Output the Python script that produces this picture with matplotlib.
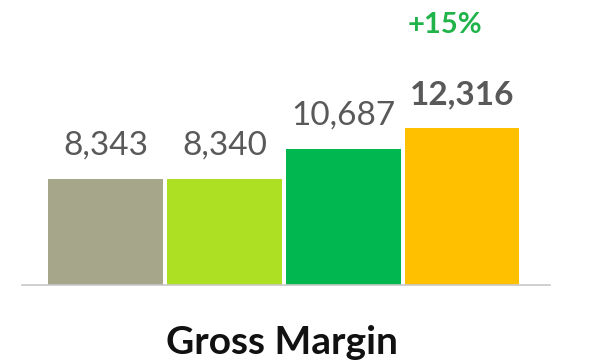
import numpy as np
import matplotlib.pyplot as plt

# gross margin by period
values = [8343, 8340, 10687, 12316]
labels = ["8,343", "8,340", "10,687", "12,316"]
bar_colors = ["#a6a68a", "#addf22", "#00b84f", "#ffc000"]
growth = "+15%"
title = "Gross Margin"

plt.rcParams['font.family'] = ['Lato', 'DejaVu Sans']

W, H = 589, 361
fig = plt.figure(figsize=(W / 100, H / 100), dpi=100)
ax = fig.add_axes([22 / W, 76 / H, 528 / W, 285 / H])

x = np.arange(len(values))
ax.bar(x, values, width=0.966, color=bar_colors, zorder=2)
ax.set_xlim(-0.706, 3.74)
ax.set_ylim(0, 22400)

for i, (v, lab) in enumerate(zip(values, labels)):
    ax.annotate(lab, (x[i], v), xytext=(0, 24), textcoords='offset pixels',
                ha='center', va='baseline', fontsize=24, color='#595959',
                fontweight='bold' if i == len(values) - 1 else 'normal')

for s in ['top', 'right', 'left']:
    ax.spines[s].set_visible(False)
ax.spines['bottom'].set_color('#c8c8c8')
ax.spines['bottom'].set_linewidth(1.2)
ax.set_xticks([])
ax.set_yticks([])

fig.text(445 / W, 1 - 25 / H, growth, ha='center', va='center',
         fontsize=21, fontweight='bold', color='#1fb34a')
fig.text(282 / W, 1 - 354 / H, title, ha='center', va='baseline',
         fontsize=28, fontweight='bold', color='#111111')

fig.savefig("out.png", dpi=100)
